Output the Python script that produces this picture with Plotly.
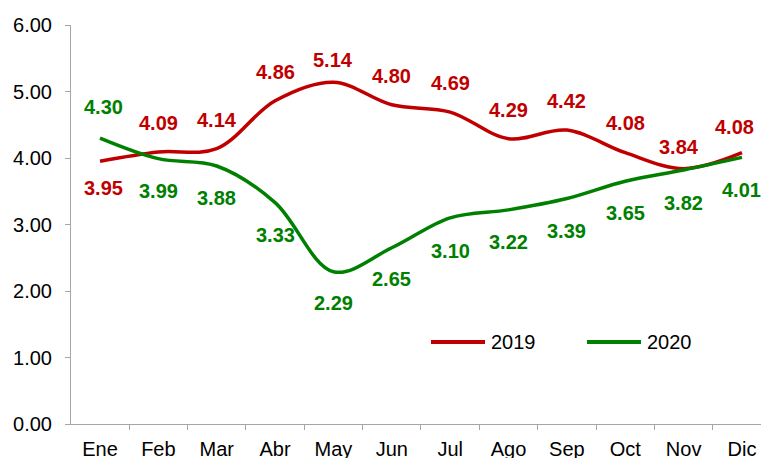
import plotly.graph_objects as go

months = ["Ene", "Feb", "Mar", "Abr", "May", "Jun", "Jul", "Ago", "Sep", "Oct", "Nov", "Dic"]
series_names = ["2019", "2020"]
y2019 = [3.95, 4.09, 4.14, 4.86, 5.14, 4.80, 4.69, 4.29, 4.42, 4.08, 3.84, 4.08]
y2020 = [4.30, 3.99, 3.88, 3.33, 2.29, 2.65, 3.10, 3.22, 3.39, 3.65, 3.82, 4.01]
y_ticks = [0, 1, 2, 3, 4, 5, 6]

# label pixel offsets (style only)
shift2019 = [-27, 29, 29, 29, 22, 29, 29, 29, 29, 30, 22, 26]
xshift2019 = [3, 0, 0, 0, 0, 0, 0, 0, 0, 0, -5, -7]
shift2020 = [31, -32, -32, -32, -31, -31, -33, -32, -32, -32, -33, -33]
xshift2020 = [3, 0, 0, 0, 0, 0, 0, 0, 0, 0, 0, 0]

RED = "#C00000"
GREEN = "#008000"
FONT = "Liberation Sans, Arial, sans-serif"
colors = [RED, GREEN]

# the page body adds an 8px offset; figure is sized to fill the remaining window
OFF = 8
FW, FH = 769 - OFF, 458 - OFF
L, T, W, H = 71 - OFF, 25 - OFF, 698, 399


def px(x):
    return (x - OFF - L) / W


def py(y):
    return (T + H - (y - OFF)) / H


fig = go.Figure()
for name, ys, col in zip(series_names, [y2019, y2020], colors):
    fig.add_trace(go.Scatter(x=months, y=ys, name=name, mode="lines", showlegend=False,
                             line=dict(color=col, width=3.5, shape="spline", smoothing=1)))

for ys, sh, xsh, col in [(y2019, shift2019, xshift2019, RED),
                         (y2020, shift2020, xshift2020, GREEN)]:
    for m, v, s, xs_ in zip(months, ys, sh, xsh):
        fig.add_annotation(x=m, y=v, text=f"{v:.2f}", showarrow=False,
                           yshift=s, xshift=xs_,
                           font=dict(family=FONT, size=20, color=col, weight="bold"))

# legend (drawn inside the plot area)
leg_y = 342
for (x0, x1, tx), name, col in zip([(431, 485, 489), (587, 641, 645)], series_names, colors):
    fig.add_shape(type="line", xref="paper", yref="paper", x0=px(x0), x1=px(x1),
                  y0=py(leg_y), y1=py(leg_y), line=dict(color=col, width=4))
    fig.add_annotation(xref="paper", yref="paper", x=px(tx), y=py(leg_y), text=name,
                       showarrow=False, xanchor="left", yanchor="middle",
                       font=dict(family=FONT, size=20, color="black"))

fig.update_layout(
    width=FW, height=FH,
    margin=dict(l=L, r=FW - L - W, t=T, b=FH - T - H, autoexpand=False),
    paper_bgcolor="white", plot_bgcolor="white",
    font=dict(family=FONT, size=20, color="black"),
    showlegend=False,
)
fig.update_xaxes(type="category", range=[-0.497, 11.463], showgrid=False, automargin=False,
                 showline=True, linecolor="#A6A6A6", linewidth=1,
                 ticks="outside", tickson="boundaries", ticklen=5, tickcolor="#A6A6A6",
                 tickfont=dict(size=20, color="black"), zeroline=False,
                 ticklabelstandoff=7)
fig.update_yaxes(range=[0, 6], tickvals=y_ticks, tickformat=".2f", showgrid=False,
                 automargin=False,
                 showline=True, linecolor="#A6A6A6", linewidth=1,
                 ticks="outside", ticklen=5, tickcolor="#A6A6A6",
                 tickfont=dict(size=20, color="black"), zeroline=False,
                 ticklabelstandoff=9)

fig.write_html("out.html")
